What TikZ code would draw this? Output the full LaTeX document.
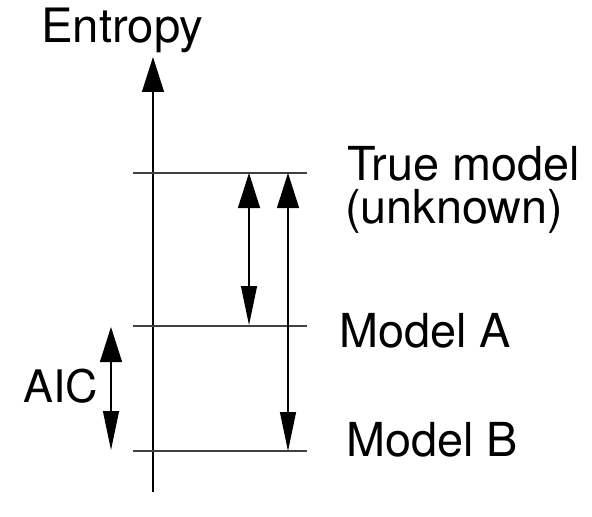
\documentclass[tikz,border=0pt]{standalone}
\usepackage{fontspec}
\setmainfont{TeX Gyre Heros}
\usetikzlibrary{arrows.meta}
\begin{document}
\begin{tikzpicture}[x=1bp,y=-1bp,
  lbl/.style={anchor=base west,inner sep=0pt,font=\fontsize{47}{47}\selectfont},
  level/.style={line width=1.3bp,black!75},
  axisline/.style={line width=1.2bp,-{Triangle[width=22bp,length=35bp]}},
  dbl/.style={line width=1.2bp,{Triangle[width=22bp,length=35bp]}-{Triangle[width=16bp,length=39bp]}}]
  \useasboundingbox (0,0) rectangle (592,517);
  % axis
  \coordinate (ax0) at (153,492);
  \coordinate (ax1) at (153,57);
  \draw[axisline] (ax0) -- (ax1);
  \node[lbl,font=\fontsize{47.5}{47.5}\selectfont] (entropy) at (41,43) {Entropy};
  % entropy levels
  \coordinate (t0) at (133,173); \coordinate (t1) at (307,173);
  \coordinate (a0) at (133,326); \coordinate (a1) at (307,326);
  \coordinate (b0) at (133,451); \coordinate (b1) at (307,451);
  \draw[level] (t0) -- (t1);
  \draw[level] (a0) -- (a1);
  \draw[level] (b0) -- (b1);
  % labels of the levels
  \node[lbl] (truem) at (347,181) {True model};
  \node[lbl] (unkn) at (345,224) {(unknown)};
  \node[lbl] (ma) at (339,347) {Model A};
  \node[lbl] (mb) at (346,456) {Model B};
  \node[lbl,font=\fontsize{45}{45}\selectfont] (aic) at (23,402) {AIC};
  % distances between levels
  \coordinate (pa0) at (249,173); \coordinate (pa1) at (249,325);
  \coordinate (pb0) at (288,173); \coordinate (pb1) at (288,451);
  \coordinate (pc0) at (111,327); \coordinate (pc1) at (111,450);
  \draw[dbl] (pa0) -- (pa1);
  \draw[dbl] (pb0) -- (pb1);
  \draw[dbl] (pc0) -- (pc1);
\end{tikzpicture}
\end{document}
